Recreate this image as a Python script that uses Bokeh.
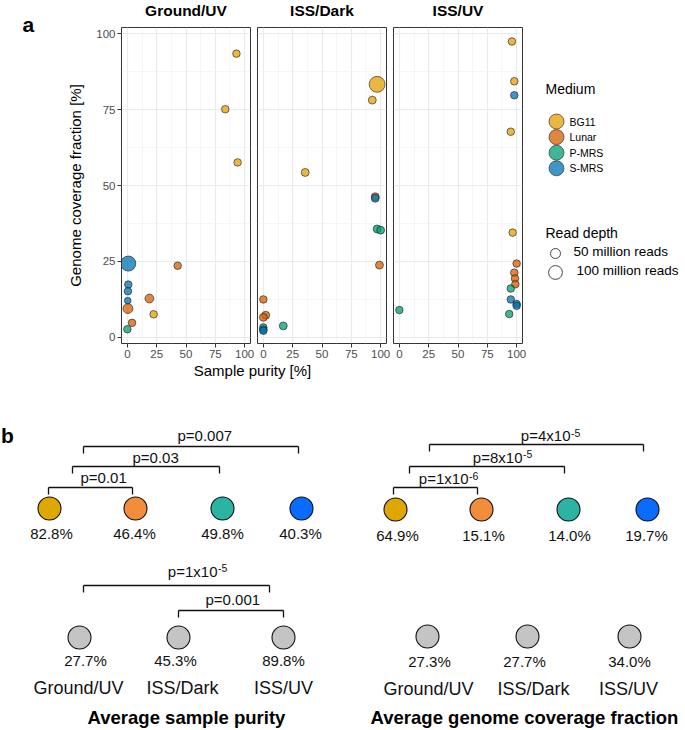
import numpy as np
from bokeh.plotting import figure
from bokeh.models import Range1d, FixedTicker, ColumnDataSource
from bokeh.transform import factor_cmap
from bokeh.layouts import row, column
from bokeh.embed import file_html
from bokeh.resources import INLINE
from bokeh.core.properties import value

FONT = "Liberation Sans"

# ---------------- data: panel a ----------------
media = ["BG11", "Lunar", "P-MRS", "S-MRS"]
media_colors = ["#E69F00", "#D55E00", "#009E73", "#0072B2"]
conditions = ["Ground/UV", "ISS/Dark", "ISS/UV"]
axis_ticks = [0, 25, 50, 75, 100]

gu_medium = ["BG11", "BG11", "BG11", "BG11", "Lunar", "Lunar", "Lunar", "Lunar",
             "P-MRS", "S-MRS", "S-MRS", "S-MRS", "S-MRS"]
gu_purity = [93.0, 83.5, 94.0, 22.4, 0.5, 4.0, 18.8, 42.9, 0.0, 0.8, 0.8, 0.5, 0.3]
gu_coverage = [93.4, 75.1, 57.6, 7.6, 9.5, 4.8, 12.8, 23.6, 2.7, 24.3, 17.4, 15.2, 12.1]
gu_depth = [27, 27, 27, 27, 50, 27, 38, 27, 27, 120, 27, 27, 20]

id_medium = ["BG11", "BG11", "BG11", "Lunar", "Lunar", "Lunar", "Lunar", "Lunar",
             "P-MRS", "P-MRS", "P-MRS", "P-MRS", "S-MRS", "S-MRS", "S-MRS"]
id_purity = [97.0, 92.9, 35.7, 95.4, 99.0, 0.0, 2.0, 0.0, 97.0, 100.0, 17.0, 0.0, 95.4, 0.0, 0.0]
id_coverage = [83.3, 78.1, 54.3, 46.3, 23.8, 12.5, 7.3, 6.6, 35.7, 35.3, 3.8, 3.3, 45.8, 2.6, 2.2]
id_depth = [135, 30, 30, 30, 30, 27, 30, 30, 30, 30, 30, 27, 30, 27, 27]

iu_medium = ["BG11"] * 4 + ["Lunar"] * 4 + ["P-MRS"] * 3 + ["S-MRS"] * 4
iu_purity = [96.0, 98.0, 95.0, 96.6, 100.0, 98.0, 98.6, 98.9, 95.0, 93.7, 0.0, 98.0, 95.0, 100.0, 100.0]
iu_coverage = [97.4, 84.3, 67.7, 34.5, 24.3, 21.3, 19.4, 17.5, 16.1, 7.7, 9.0, 79.7, 12.5, 11.0, 10.4]
iu_depth = [27] * 15

depth_legend = [50, 100]
depth_legend_labels = ["50 million reads", "100 million reads"]

# ---------------- data: panel b ----------------
avg_purity_medium = [82.8, 46.4, 49.8, 40.3]
avg_cov_medium = [64.9, 15.1, 14.0, 19.7]
avg_purity_cond = [27.7, 45.3, 89.8]
avg_cov_cond = [27.3, 27.7, 34.0]
purity_medium_p = [("0.01", ""), ("0.03", ""), ("0.007", "")]
cov_medium_p = [("1x10", "-6"), ("8x10", "-5"), ("4x10", "-5")]
purity_cond_p = [("1x10", "-5"), ("0.001", "")]
b_colors = ["#DFA800", "#F28D3C", "#2BB3A3", "#0A6BFF"]


def size_of(d):
    return list(1.3 * np.sqrt(np.asarray(d, float)) + 0.8)


def canvas(x0, x1, y0, y1, bt=0, bb=0):
    """A plain figure whose data coordinates are the page pixels (y down).
    bt/bb: empty borders above/below the frame (frame covers y0+bt .. y1-bb)."""
    p = figure(width=x1 - x0, height=y1 - y0, x_range=Range1d(x0, x1),
               y_range=Range1d(y1 - bb, y0 + bt),
               output_backend="svg", toolbar_location=None, title=None,
               x_axis_location=None, y_axis_location=None,
               min_border_left=0, min_border_right=0, min_border_top=bt, min_border_bottom=bb)
    p.outline_line_color = None
    p.grid.visible = False
    p.background_fill_color = "white"
    p.border_fill_color = "white"
    return p


# ---------------- layout constants ----------------
GUT = 60          # left gutter width (holds the "a")
STRIP = 26        # title strip height
TOP_BOT = 363     # bottom of the top row
XR = (-5, 105)
YR = (-2, 102)


def make_facet(width, left, right, show_y, med, pur, cov, dep):
    p = figure(width=width, height=TOP_BOT - STRIP, x_range=Range1d(*XR), y_range=Range1d(*YR),
               output_backend="svg", toolbar_location=None, title=None,
               min_border_left=left, min_border_right=right,
               min_border_top=1, min_border_bottom=20)
    p.background_fill_color = "white"
    p.border_fill_color = "white"
    p.outline_line_color = "#333333"
    p.outline_line_width = 1
    tk = FixedTicker(ticks=axis_ticks, minor_ticks=[12.5, 37.5, 62.5, 87.5])
    for ax in (p.xaxis[0], p.yaxis[0]):
        ax.ticker = tk
        ax.axis_line_color = None
        ax.major_tick_in = 0
        ax.major_tick_out = 4
        ax.major_tick_line_color = "#333333"
        ax.minor_tick_line_color = None
        ax.major_label_text_font = FONT
        ax.major_label_text_font_size = "11.5px"
        ax.major_label_text_color = "#4D4D4D"
        ax.major_label_standoff = 2
    for g in (p.xgrid[0], p.ygrid[0]):
        g.ticker = tk
        g.grid_line_color = "#EBEBEB"
        g.grid_line_width = 1.2
        g.minor_grid_line_color = "#F2F2F2"
        g.minor_grid_line_width = 0.7
    if show_y:
        p.yaxis.axis_label = "Genome coverage fraction [%]"
        p.yaxis.axis_label_text_font = FONT
        p.yaxis.axis_label_text_font_size = "15px"
        p.yaxis.axis_label_text_font_style = "normal"
        p.yaxis.axis_label_text_color = "black"
        p.yaxis.axis_label_standoff = 9
    else:
        p.yaxis.visible = False

    src = ColumnDataSource(dict(x=pur, y=cov, m=med, s=size_of(dep)))
    p.scatter("x", "y", size="s", source=src,
              fill_color=factor_cmap("m", palette=media_colors, factors=media),
              fill_alpha=0.75, line_color="#222222", line_alpha=0.8, line_width=0.8)
    return p


# facet frames (page px): 121-250, 257-386, 393-522
f1 = make_facet(254 - GUT, 121 - GUT, 4, True, gu_medium, gu_purity, gu_coverage, gu_depth)
f2 = make_facet(136, 3, 4, False, id_medium, id_purity, id_coverage, id_depth)
f3 = make_facet(136, 3, 4, False, iu_medium, iu_purity, iu_coverage, iu_depth)

# gutter with panel letter
gut = canvas(0, GUT, 0, TOP_BOT)
gut.text(x=[22], y=[24], text=["a"], text_font=value(FONT), text_font_size="21px",
         text_font_style="bold", text_align="left", text_baseline="middle", text_color="black")

# facet strip titles
strip = canvas(GUT, 684, 0, STRIP)
strip.text(x=[185.5, 321.5, 457.5], y=[10] * 3, text=conditions, text_font=value(FONT),
           text_font_size="15.5px", text_font_style="bold", text_align="center",
           text_baseline="middle", text_color="black")

# ---------------- legend (same borders as the facets, so frames line up) ----------------
lg = canvas(526, 684, STRIP, TOP_BOT, bt=1, bb=20)
lg.text(x=[545], y=[88], text=["Medium"], text_font=value(FONT), text_font_size="14px",
        text_baseline="middle", text_color="black")
med_y = [121 + 15.6 * i for i in range(len(media))]
lg.scatter(x=[556] * len(media), y=med_y, size=15, fill_color=media_colors, fill_alpha=0.75,
           line_color="#222222", line_alpha=0.8, line_width=0.8)
lg.text(x=[569] * len(media), y=med_y, text=media, text_font=value(FONT), text_font_size="10.5px",
        text_baseline="middle", text_color="black")
lg.text(x=[545], y=[232], text=["Read depth"], text_font=value(FONT), text_font_size="14px",
        text_baseline="middle", text_color="black")
lg.scatter(x=[555, 555], y=[253, 272], size=size_of(depth_legend), fill_color="white",
           line_color="#333333", line_width=0.9)
lg.text(x=[573, 576], y=[251, 270], text=depth_legend_labels, text_font=value(FONT),
        text_font_size="13.5px", text_baseline="middle", text_color="black")

top = row(gut, column(strip, row(f1, f2, f3, lg, spacing=0), spacing=0), spacing=0)

# ---------------- panel b ----------------
pb = canvas(0, 684, TOP_BOT, 729)

pb.text(x=[252], y=[370], text=["Sample purity [%]"], text_font=value(FONT), text_font_size="15px",
        text_align="center", text_baseline="middle", text_color="black")
pb.text(x=[0.5], y=[435], text=["b"], text_font=value(FONT), text_font_size="21px",
        text_font_style="bold", text_align="left", text_baseline="middle", text_color="black")


def block(cx, cy, vals, colors, vx, vy, names=None, nx=None, ny=None):
    pb.scatter(x=cx, y=[cy] * len(cx), size=23, fill_color=colors, line_color="#111111", line_width=1.1)
    pb.text(x=vx, y=[vy] * len(vx), text=[f"{v:.1f}%" for v in vals], text_font=value(FONT),
            text_font_size="15px", text_align="center", text_baseline="middle", text_color="#111111")
    if names is not None:
        pb.text(x=nx, y=[ny] * len(nx), text=names, text_font=value(FONT), text_font_size="18px",
                text_align="center", text_baseline="middle", text_color="#111111")


def brackets(spans, ys, pvals, anchors, mids, leg=7):
    x0, y0, x1, y1 = [], [], [], []
    for (a, b), y in zip(spans, ys):
        x0 += [a, a, b]
        y0 += [y, y, y]
        x1 += [b, a, b]
        y1 += [y, y + leg, y + leg]
    pb.segment(x0=x0, y0=y0, x1=x1, y1=y1, line_color="#111111", line_width=1.3)
    for (main, sup), ax, my in zip(pvals, anchors, mids):
        if sup:
            pb.text(x=[ax], y=[my], text=["p=" + main], text_font=value(FONT), text_font_size="15px",
                    text_align="right", text_baseline="middle", text_color="#111111")
            pb.text(x=[ax + 0.5], y=[my - 3], text=[sup], text_font=value(FONT), text_font_size="10.5px",
                    text_align="left", text_baseline="middle", text_color="#111111")
        else:
            pb.text(x=[ax], y=[my], text=["p=" + main], text_font=value(FONT), text_font_size="15px",
                    text_align="left", text_baseline="middle", text_color="#111111")


# medium rows
block([49, 135, 222, 301], 508, avg_purity_medium, b_colors, [51, 134, 222, 300], 533)
block([395, 481, 568, 647], 509, avg_cov_medium, b_colors, [397, 483, 569, 646], 535)
brackets([(48, 132), (72, 219), (83, 298)], [487, 466, 446], purity_medium_p,
         [80, 132, 177], [477, 456.5, 434.5])
brackets([(393, 477), (409, 564), (429, 643)], [487, 466, 444], cov_medium_p,
         [468, 522, 570], [478, 456.5, 435])

# condition rows
gray = ["#C4C4C4"] * 3
block([79, 178, 283], 637, avg_purity_cond, gray, [85, 175, 283], 660, conditions, [78, 182, 283], 687.5)
block([427, 527, 629], 636, avg_cov_cond, gray, [429, 524, 629], 661, conditions, [428, 533, 628], 688)
brackets([(83, 269), (178, 283)], [585, 610], purity_cond_p, [217, 205], [570.5, 599])

pb.text(x=[186, 524], y=[717, 717], text=["Average sample purity", "Average genome coverage fraction"],
        text_font=value(FONT), text_font_size="18.5px", text_font_style="bold", text_align="center",
        text_baseline="middle", text_color="black")

layout = column(top, pb, spacing=0)
open("out.html", "w").write(file_html(layout, INLINE))
